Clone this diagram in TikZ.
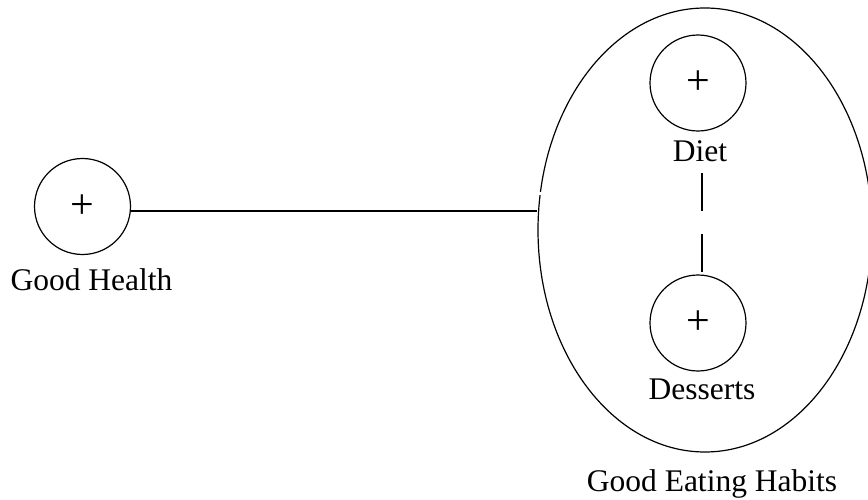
\documentclass[tikz,border=0pt]{standalone}
\usepackage{fontspec}
\setmainfont{Liberation Serif}
\usetikzlibrary{shapes.geometric}

\begin{document}
\begin{tikzpicture}[x=1pt,y=-1pt,
  concept/.style={draw, circle, line width=1.2pt, minimum size=96pt, inner sep=0pt,
    font=\fontsize{42}{44}\selectfont},
  caption/.style={anchor=base, inner sep=0pt, font=\fontsize{31.5}{36}\selectfont},
  group/.style={draw, ellipse, line width=1.2pt, minimum width=334pt, minimum height=444pt, inner sep=0pt},
  link/.style={line width=1.2pt}]
  \useasboundingbox (0,0) rectangle (868,500);
  \clip (0,0) rectangle (868,500);

  % outer grouping
  \node[group] (habits) at (705,230) {};
  \node[caption] (habitslbl) at (712,491) {Good Eating Habits};
  % small break in the outline
  \draw[white, line width=2.5pt] (537,193.5) -- (543,193.5);

  % concepts
  \node[concept] (health) at (82.5,206.5) {+};
  \node[caption] (healthlbl) at (91.5,290) {Good Health};

  \node[concept] (diet) at (698,83) {+};
  \node[caption] (dietlbl) at (700,162) {Diet};

  \node[concept] (desserts) at (698,323) {+};
  \node[caption] (dessertslbl) at (702,399) {Desserts};

  % connectors
  \coordinate (hs) at ([yshift=-4.5pt]health.east);
  \draw[link] (hs) -- (hs -| habits.west);

  \coordinate (dl) at (702,173);
  \draw[link, dash pattern=on 38pt off 23pt] (dl) -- (dl |- desserts.north);
\end{tikzpicture}
\end{document}
